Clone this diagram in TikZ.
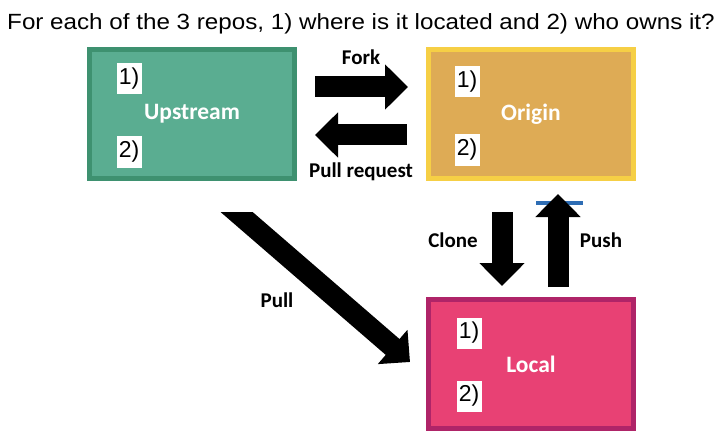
\documentclass[tikz,border=0pt]{standalone}
\usepackage{fontspec}
\setmainfont{Liberation Sans}
\newfontfamily\carlito{Carlito}
\usetikzlibrary{arrows.meta}
\usetikzlibrary{calc}

\definecolor{upfill}{HTML}{5AAD91}
\definecolor{updraw}{HTML}{3E9170}
\definecolor{orfill}{HTML}{DEAB55}
\definecolor{ordraw}{HTML}{F6CF45}
\definecolor{lofill}{HTML}{E84174}
\definecolor{lodraw}{HTML}{AF2468}
\definecolor{pushblue}{HTML}{2E6DB4}

\tikzset{
  repo/.style={draw,line width=5pt,minimum width=205,minimum height=129,
    text=white,font=\carlito\bfseries\fontsize{23.5}{26}\selectfont},
  num/.style={fill=white,inner sep=1pt,minimum width=25,minimum height=31,
    font=\fontsize{23}{26}\selectfont},
  blockarr/.style={line width=21pt,-{Triangle[width=44pt,length=23pt]}},
  lbl/.style={font=\carlito\bfseries\fontsize{21}{24}\selectfont}
}

\begin{document}
\begin{tikzpicture}[x=1pt,y=-1pt]
\useasboundingbox (0,0) rectangle (720,433);
\node[anchor=base,font=\fontsize{22}{25}\selectfont] (title) at (361,30) {\scalebox{1.1}[1]{For each of the 3 repos, 1) where is it located and 2) who owns it?}};

\node[repo,fill=upfill,draw=updraw] (up) at (192,114) {Upstream};
\node[repo,fill=orfill,draw=ordraw] (orig) at (531,114) {Origin};
\node[repo,fill=lofill,draw=lodraw] (loc) at (531,364) {Local};

\node[num] (up1) at ($(up)+(-63,-35)$) {1)};
\node[num] (up2) at ($(up)+(-63,38)$) {2)};
\node[num] (or1) at ($(orig)+(-64,-32)$) {1)};
\node[num] (or2) at ($(orig)+(-64,36)$) {2)};
\node[num] (lo1) at ($(loc)+(-62,-31)$) {1)};
\node[num] (lo2) at ($(loc)+(-62,32)$) {2)};

% fork and pull request
\draw[blockarr] ($(up.east)+(18,-27)$) -- ($(orig.west)+(-18,-27)$);
\draw[blockarr] ($(orig.west)+(-19,21)$) -- ($(up.east)+(18,21)$);
\node[lbl] (fork) at (361,57) {Fork};
\node[lbl] (preq) at (361,172) {Pull request};

% clone and push
\draw[line width=3.5pt,pushblue] ($(orig.south)+(5,22)$) -- ($(orig.south)+(52,22)$);
\draw[blockarr] ($(orig.south)+(-29,31)$) -- ($(loc.north)+(-29,-11)$);
\draw[blockarr] ($(loc.north)+(27,-10)$) -- ($(orig.south)+(27,13)$);
\node[lbl] (clone) at (453,240) {Clone};
\node[lbl] (push) at (601,240) {Push};

% pull
\begin{scope}
\clip (0,212) rectangle (720,433);
\draw[blockarr] ($(up.south)+(33,21)$) -- ($(loc.west)+(-16,-2)$);
\end{scope}
\node[lbl] (pull) at (277,300) {Pull};
\end{tikzpicture}
\end{document}
